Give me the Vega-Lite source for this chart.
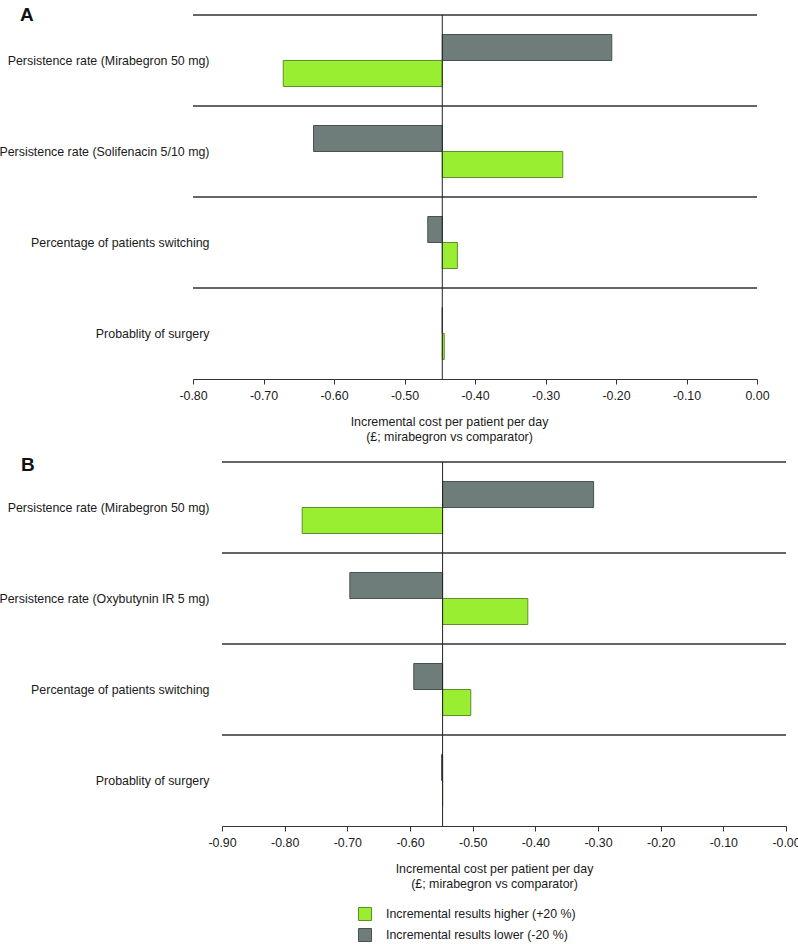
{
  "$schema": "https://vega.github.io/schema/vega-lite/v6.json",
  "autosize": {"type": "none"},
  "padding": {"left": 193, "top": 15, "right": 605, "bottom": 929},
  "background": "white",
  "config": {
    "font": "Liberation Sans",
    "view": {"stroke": null},
    "axis": {"labelFont": "Liberation Sans", "titleFont": "Liberation Sans", "labelColor": "#1a1a1a", "titleColor": "#1a1a1a", "labelFontSize": 12.4, "titleFontSize": 12.4, "titleFontWeight": "normal"},
    "title": {"font": "Liberation Sans"},
    "legend": {"labelFont": "Liberation Sans", "labelFontSize": 12.4, "labelColor": "#1a1a1a", "labelLimit": 400}
  },
  "datasets": {
    "a": [
      {"param": "Persistence rate (Mirabegron 50 mg)", "series": "Incremental results lower (-20 %)", "value": -0.206, "base": -0.4464},
      {"param": "Persistence rate (Mirabegron 50 mg)", "series": "Incremental results higher (+20 %)", "value": -0.672, "base": -0.4464},
      {"param": "Persistence rate (Solifenacin 5/10 mg)", "series": "Incremental results lower (-20 %)", "value": -0.629, "base": -0.4464},
      {"param": "Persistence rate (Solifenacin 5/10 mg)", "series": "Incremental results higher (+20 %)", "value": -0.2755, "base": -0.4464},
      {"param": "Percentage of patients switching", "series": "Incremental results lower (-20 %)", "value": -0.467, "base": -0.4464},
      {"param": "Percentage of patients switching", "series": "Incremental results higher (+20 %)", "value": -0.425, "base": -0.4464},
      {"param": "Probablity of surgery", "series": "Incremental results lower (-20 %)", "value": -0.4464, "base": -0.4464},
      {"param": "Probablity of surgery", "series": "Incremental results higher (+20 %)", "value": -0.4436, "base": -0.4464}
    ],
    "b": [
      {"param": "Persistence rate (Mirabegron 50 mg)", "series": "Incremental results lower (-20 %)", "value": -0.307, "base": -0.548},
      {"param": "Persistence rate (Mirabegron 50 mg)", "series": "Incremental results higher (+20 %)", "value": -0.772, "base": -0.548},
      {"param": "Persistence rate (Oxybutynin IR 5 mg)", "series": "Incremental results lower (-20 %)", "value": -0.696, "base": -0.548},
      {"param": "Persistence rate (Oxybutynin IR 5 mg)", "series": "Incremental results higher (+20 %)", "value": -0.412, "base": -0.548},
      {"param": "Percentage of patients switching", "series": "Incremental results lower (-20 %)", "value": -0.594, "base": -0.548},
      {"param": "Percentage of patients switching", "series": "Incremental results higher (+20 %)", "value": -0.503, "base": -0.548},
      {"param": "Probablity of surgery", "series": "Incremental results lower (-20 %)", "value": -0.5496, "base": -0.548},
      {"param": "Probablity of surgery", "series": "Incremental results higher (+20 %)", "value": -0.548, "base": -0.548}
    ],
    "baseA": [{"base": -0.4464}],
    "baseB": [{"base": -0.548}]
  },
  "spacing": 83,
  "bounds": "flush",
  "center": true,
  "resolve": {"scale": {"color": "shared", "stroke": "shared"}},
  "vconcat": [
    {
      "width": 622,
      "height": 364,
      "title": {"text": "A", "anchor": "start", "frame": "group", "fontSize": 19, "fontWeight": "bold", "color": "#111", "dx": -173, "dy": 25, "offset": 0, "baseline": "alphabetic"},
      "data": {"name": "a"},
      "encoding": {
        "y": {"field": "param", "type": "nominal", "sort": ["Persistence rate (Mirabegron 50 mg)", "Persistence rate (Solifenacin 5/10 mg)", "Percentage of patients switching", "Probablity of surgery"], "scale": {"paddingInner": 0, "paddingOuter": 0}, "axis": {"title": null, "domain": false, "ticks": false, "tickSize": 0, "grid": false, "labelPadding": -16, "labelLimit": 400, "labelAlign": "right"}}
      },
      "layer": [
        {
          "mark": {"type": "rule", "color": "#333", "strokeWidth": 1},
          "encoding": {
            "y": {"field": "param", "type": "nominal", "bandPosition": 0, "sort": ["Persistence rate (Mirabegron 50 mg)", "Persistence rate (Solifenacin 5/10 mg)", "Percentage of patients switching", "Probablity of surgery"]},
            "x": {"datum": -0.8, "type": "quantitative"},
            "x2": {"datum": 0}
          }
        },
        {
          "mark": {"type": "bar", "strokeWidth": 1},
          "encoding": {
            "yOffset": {"field": "series", "type": "nominal", "sort": ["Incremental results lower (-20 %)", "Incremental results higher (+20 %)"], "scale": {"paddingInner": 0, "paddingOuter": 0.75}},
            "x": {"field": "value", "type": "quantitative", "scale": {"domain": [-0.8, 0], "range": [0, 564], "nice": false, "zero": false},
              "axis": {"title": ["Incremental cost per patient per day", "(£; mirabegron vs comparator)"], "values": [-0.8, -0.7, -0.6, -0.5, -0.4, -0.3, -0.2, -0.1, 0], "labelExpr": "(datum.value < 0 ? '-' : '') + format(abs(datum.value), '.2f')", "grid": false, "tickSize": 5, "tickColor": "#333", "domainColor": "#333", "labelPadding": 5, "labelFlush": false, "labelOverlap": false, "titleX": 256, "titleY": 46, "titleBaseline": "alphabetic", "titleLineHeight": 15, "titleAlign": "center"}},
            "x2": {"field": "base"},
            "color": {"field": "series", "type": "nominal", "sort": ["Incremental results higher (+20 %)", "Incremental results lower (-20 %)"], "scale": {"domain": ["Incremental results higher (+20 %)", "Incremental results lower (-20 %)"], "range": ["#9AEE32", "#6E7C7A"]},
              "legend": {"title": null, "orient": "none", "legendX": 165, "legendY": 892, "direction": "vertical", "symbolType": "square", "symbolSize": 169, "symbolStrokeWidth": 1, "symbolStrokeColor": "#555", "rowPadding": 3, "labelOffset": 14, "padding": 0, "labelLimit": 400}},
            "stroke": {"field": "series", "type": "nominal", "scale": {"domain": ["Incremental results higher (+20 %)", "Incremental results lower (-20 %)"], "range": ["#5f8f2a", "#465250"]}, "legend": null}
          }
        },
        {
          "data": {"name": "baseA"},
          "mark": {"type": "rule", "color": "#222", "strokeWidth": 1},
          "encoding": {"x": {"field": "base", "type": "quantitative"}, "y": null}
        }
      ]
    },
    {
      "width": 564,
      "height": 364,
      "title": {"text": "B", "anchor": "start", "frame": "group", "fontSize": 19, "fontWeight": "bold", "color": "#111", "dx": -201, "dy": 28, "offset": 0, "baseline": "alphabetic"},
      "data": {"name": "b"},
      "encoding": {
        "y": {"field": "param", "type": "nominal", "sort": ["Persistence rate (Mirabegron 50 mg)", "Persistence rate (Oxybutynin IR 5 mg)", "Percentage of patients switching", "Probablity of surgery"], "scale": {"paddingInner": 0, "paddingOuter": 0}, "axis": {"title": null, "domain": false, "ticks": false, "tickSize": 0, "grid": false, "labelPadding": 13, "labelLimit": 400, "labelAlign": "right"}}
      },
      "layer": [
        {
          "mark": {"type": "rule", "color": "#333", "strokeWidth": 1},
          "encoding": {
            "y": {"field": "param", "type": "nominal", "bandPosition": 0, "sort": ["Persistence rate (Mirabegron 50 mg)", "Persistence rate (Oxybutynin IR 5 mg)", "Percentage of patients switching", "Probablity of surgery"]},
            "x": {"datum": -0.9, "type": "quantitative"},
            "x2": {"datum": 0}
          }
        },
        {
          "mark": {"type": "bar", "strokeWidth": 1},
          "encoding": {
            "yOffset": {"field": "series", "type": "nominal", "sort": ["Incremental results lower (-20 %)", "Incremental results higher (+20 %)"], "scale": {"paddingInner": 0, "paddingOuter": 0.75}},
            "x": {"field": "value", "type": "quantitative", "scale": {"domain": [-0.9, 0], "range": [0, 564], "nice": false, "zero": false},
              "axis": {"title": ["Incremental cost per patient per day", "(£; mirabegron vs comparator)"], "values": [-0.9, -0.8, -0.7, -0.6, -0.5, -0.4, -0.3, -0.2, -0.1, 0], "labelExpr": "'-' + format(abs(datum.value), '.2f')", "grid": false, "tickSize": 5, "tickColor": "#333", "domainColor": "#333", "labelPadding": 5, "labelFlush": false, "labelOverlap": false, "titleX": 272, "titleY": 46, "titleBaseline": "alphabetic", "titleLineHeight": 15, "titleAlign": "center"}},
            "x2": {"field": "base"},
            "color": {"field": "series", "type": "nominal"},
            "stroke": {"field": "series", "type": "nominal", "legend": null}
          }
        },
        {
          "data": {"name": "baseB"},
          "mark": {"type": "rule", "color": "#222", "strokeWidth": 1},
          "encoding": {"x": {"field": "base", "type": "quantitative"}, "y": null}
        }
      ]
    }
  ]
}
